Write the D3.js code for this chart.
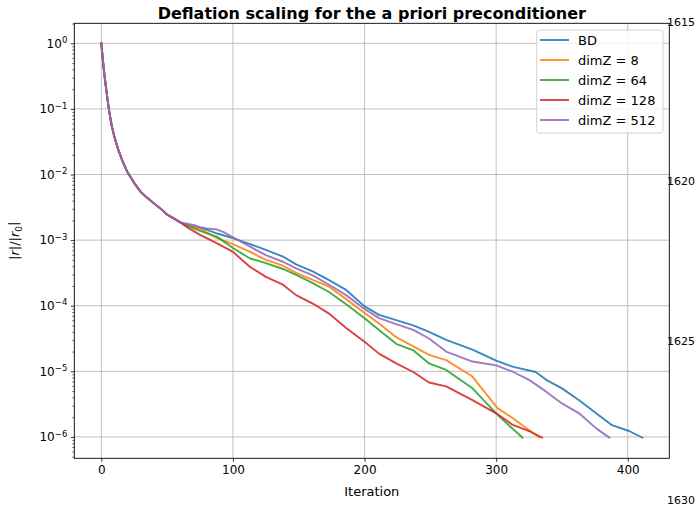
<!DOCTYPE html>
<html>
<head>
<meta charset="utf-8">
<script src="https://cdn.jsdelivr.net/npm/d3@7"></script>
<style>
  html, body { margin: 0; padding: 0; background: #ffffff; }
  svg { display: block; }
  text { font-family: "DejaVu Sans", sans-serif; fill: #000; }
</style>
</head>
<body>
<svg id="chart" width="698" height="508"></svg>
<script>
// ---------------- data ----------------
const title = "Deflation scaling for the a priori preconditioner";
const xLabel = "Iteration";
const seriesNames = ["BD", "dimZ = 8", "dimZ = 64", "dimZ = 128", "dimZ = 512"];
const seriesColors = ["#1f77b4", "#ff7f0e", "#2ca02c", "#d62728", "#9467bd"];
const xTicks = [0, 100, 200, 300, 400];
const yTickExponents = [0, -1, -2, -3, -4, -5, -6];
const lineNumbers = ["1615", "1620", "1625", "1630"];

// common initial decay (all series overlap here)
const commonIter = [0, 1, 2, 3, 4, 5, 6, 8, 10, 13, 16, 20, 25, 30, 35, 40, 45, 50, 55, 60];
const commonVal  = [1.0, 0.60, 0.38, 0.257, 0.178, 0.126, 0.091, 0.054, 0.037, 0.0234, 0.0162,
                    0.0107, 0.0074, 0.0054, 0.00437, 0.00363, 0.00302, 0.00245, 0.00214, 0.00186];

const bdIter = [65, 70, 75, 80, 88, 100, 113, 125, 138, 148, 161, 173, 186, 200, 211, 224, 237, 249, 262, 282, 300, 313, 330, 338, 350, 363, 376, 388, 401, 411];
const bdVal  = [1.70e-3, 1.62e-3, 1.55e-3, 1.45e-3, 1.26e-3, 1.07e-3, 8.71e-4, 7.08e-4, 5.62e-4, 4.27e-4,
                3.31e-4, 2.45e-4, 1.74e-4, 9.77e-5, 7.24e-5, 6.03e-5, 5.01e-5, 3.98e-5, 3.02e-5, 2.14e-5,
                1.45e-5, 1.17e-5, 9.77e-6, 7.41e-6, 5.50e-6, 3.63e-6, 2.29e-6, 1.51e-6, 1.23e-6, 9.77e-7];

const z8Iter = [65, 75, 88, 100, 113, 125, 138, 148, 161, 173, 186, 200, 211, 224, 237, 249, 262, 282, 287, 295, 301, 313, 323, 333];
const z8Val  = [1.70e-3, 1.48e-3, 1.07e-3, 8.71e-4, 6.61e-4, 5.01e-4, 4.07e-4, 3.16e-4, 2.45e-4, 1.95e-4,
                1.26e-4, 7.76e-5, 5.37e-5, 3.31e-5, 2.40e-5, 1.78e-5, 1.48e-5, 8.32e-6, 6.17e-6, 3.89e-6,
                2.75e-6, 1.91e-6, 1.35e-6, 9.77e-7];

const z64Iter = [65, 75, 88, 100, 113, 125, 138, 148, 161, 173, 186, 200, 211, 224, 237, 249, 262, 282, 300, 310, 320];
const z64Val  = [1.66e-3, 1.38e-3, 1.12e-3, 7.59e-4, 5.25e-4, 4.47e-4, 3.63e-4, 2.95e-4, 2.19e-4, 1.62e-4,
                 1.05e-4, 6.46e-5, 4.27e-5, 2.63e-5, 2.09e-5, 1.32e-5, 1.05e-5, 5.50e-6, 2.29e-6, 1.48e-6, 9.77e-7];

const z128Iter = [65, 75, 88, 100, 113, 125, 138, 148, 161, 173, 186, 200, 211, 224, 237, 249, 262, 282, 300, 313, 325, 335];
const z128Val  = [1.58e-3, 1.20e-3, 8.91e-4, 6.61e-4, 3.89e-4, 2.75e-4, 2.09e-4, 1.45e-4, 1.07e-4, 7.59e-5,
                  4.57e-5, 2.82e-5, 1.86e-5, 1.32e-5, 9.77e-6, 6.76e-6, 5.89e-6, 3.63e-6, 2.29e-6, 1.51e-6, 1.23e-6, 9.77e-7];

const z512Iter = [65, 70, 75, 80, 88, 93, 100, 113, 125, 138, 148, 161, 173, 186, 200, 211, 224, 237, 249, 262, 282, 300, 313, 325, 338, 350, 363, 376, 386];
const z512Val  = [1.78e-3, 1.70e-3, 1.58e-3, 1.51e-3, 1.45e-3, 1.32e-3, 1.10e-3, 7.94e-4, 5.89e-4, 4.68e-4,
                  3.72e-4, 2.88e-4, 2.09e-4, 1.45e-4, 8.91e-5, 6.46e-5, 5.25e-5, 4.27e-5, 3.16e-5, 2.00e-5,
                  1.41e-5, 1.23e-5, 9.77e-6, 7.41e-6, 4.90e-6, 3.24e-6, 2.29e-6, 1.35e-6, 9.77e-7];

const seriesIters = [bdIter, z8Iter, z64Iter, z128Iter, z512Iter];
const seriesVals  = [bdVal, z8Val, z64Val, z128Val, z512Val];

// ---------------- layout ----------------
const svg = d3.select("#chart");
const L = 74.3, R = 669.3, T = 23.3, B = 458.3;

const x = d3.scaleLinear().domain([-20.55, 431.55]).range([L, R]);
const y = d3.scaleLog().domain([Math.pow(10, -6.326), Math.pow(10, 0.305)]).range([B, T]);

// grid
const grid = svg.append("g");
grid.selectAll("line.gx").data(xTicks).enter().append("line")
  .attr("x1", d => x(d)).attr("x2", d => x(d)).attr("y1", T).attr("y2", B)
  .attr("stroke", "#b0b0b0").attr("stroke-width", 0.8);
grid.selectAll("line.gy").data(yTickExponents).enter().append("line")
  .attr("x1", L).attr("x2", R).attr("y1", d => y(Math.pow(10, d))).attr("y2", d => y(Math.pow(10, d)))
  .attr("stroke", "#b0b0b0").attr("stroke-width", 0.8);

// lines
const plot = svg.append("g");
const lineGen = d3.line().x(d => x(d[0])).y(d => y(d[1]));
seriesNames.forEach((name, k) => {
  const pts = commonIter.map((it, j) => [it, commonVal[j]])
    .concat(seriesIters[k].map((it, j) => [it, seriesVals[k][j]]));
  plot.append("path").datum(pts)
    .attr("d", lineGen)
    .attr("fill", "none")
    .attr("stroke", seriesColors[k])
    .attr("stroke-width", 1.9)
    .attr("stroke-opacity", 0.88)
    .attr("stroke-linejoin", "round")
    .attr("stroke-linecap", "square");
});

// axes
const xAxis = d3.axisBottom(x).tickValues(xTicks).tickSize(3.5).tickPadding(3.5).tickFormat(d3.format("d"));
const gx = svg.append("g").attr("transform", `translate(0,${B})`).call(xAxis);
gx.select(".domain").remove();
gx.selectAll("text").attr("font-size", 12).attr("font-family", "DejaVu Sans").attr("fill", "#000");
gx.selectAll("line").attr("stroke", "#000").attr("stroke-width", 0.8);

// minor y ticks
const minorTicks = [];
for (let e = -7; e <= 0; e++) for (let m = 2; m <= 9; m++) {
  const v = m * Math.pow(10, e);
  if (v >= y.domain()[0] && v <= y.domain()[1]) minorTicks.push(v);
}
const yMinor = d3.axisLeft(y).tickValues(minorTicks).tickSize(2).tickFormat("");
const gyMinor = svg.append("g").attr("transform", `translate(${L},0)`).call(yMinor);
gyMinor.select(".domain").remove();
gyMinor.selectAll("line").attr("stroke", "#000").attr("stroke-width", 0.6);

const yAxis = d3.axisLeft(y).tickValues(yTickExponents.map(e => Math.pow(10, e))).tickSize(3.5).tickPadding(3.5).tickFormat("");
const gy = svg.append("g").attr("transform", `translate(${L},0)`).call(yAxis);
gy.select(".domain").remove();
gy.selectAll("line").attr("stroke", "#000").attr("stroke-width", 0.8);
gy.selectAll(".tick").each(function (d) {
  const e = Math.round(Math.log10(d));
  const t = d3.select(this).append("text")
    .attr("x", -7).attr("dy", "0.32em").attr("text-anchor", "end")
    .attr("font-size", 12).attr("font-family", "DejaVu Sans").attr("fill", "#000");
  t.append("tspan").text("10");
  t.append("tspan").attr("font-size", 8.5).attr("dy", "-0.55em")
    .text(e < 0 ? "\u2212" + Math.abs(e) : String(e));
});

// frame
svg.append("rect").attr("x", L).attr("y", T).attr("width", R - L).attr("height", B - T)
  .attr("fill", "none").attr("stroke", "#000").attr("stroke-width", 0.9);

// title & labels
svg.append("text").attr("x", (L + R) / 2).attr("y", 19).attr("text-anchor", "middle")
  .attr("font-size", 16).attr("font-weight", "bold").text(title);
svg.append("text").attr("x", (L + R) / 2).attr("y", 496).attr("text-anchor", "middle")
  .attr("font-size", 13).text(xLabel);
const yl = svg.append("text").attr("transform", `translate(19,${(T + B) / 2}) rotate(-90)`)
  .attr("text-anchor", "middle").attr("font-size", 13);
yl.append("tspan").text("|");
yl.append("tspan").attr("font-style", "italic").text("r");
yl.append("tspan").text("|/|");
yl.append("tspan").attr("font-style", "italic").text("r");
yl.append("tspan").attr("font-size", 9).attr("dy", "0.3em").text("0");
yl.append("tspan").attr("dy", "-0.3em").text("|");

// legend
const leg = svg.append("g");
leg.append("rect").attr("x", 536.7).attr("y", 30).attr("width", 126.3).attr("height", 103)
  .attr("rx", 2.5).attr("fill", "#fff").attr("fill-opacity", 0.8)
  .attr("stroke", "#cccccc").attr("stroke-width", 0.9);
const rowY = d3.scalePoint().domain(seriesNames).range([40, 120]);
seriesNames.forEach((name, k) => {
  leg.append("line").attr("x1", 540).attr("x2", 569).attr("y1", rowY(name)).attr("y2", rowY(name))
    .attr("stroke", seriesColors[k]).attr("stroke-width", 1.9).attr("stroke-opacity", 0.88);
  leg.append("text").attr("x", 578).attr("y", rowY(name)).attr("dy", "0.36em")
    .attr("font-size", 13).text(name);
});

// page line numbers at the right edge
const ln = d3.scalePoint().domain(lineNumbers).range([22, 500]);
svg.selectAll("text.ln").data(lineNumbers).enter().append("text")
  .attr("class", "ln").attr("x", 667).attr("y", d => ln(d)).attr("dy", "0.35em")
  .attr("font-family", "Liberation Sans, Arial, sans-serif").attr("font-size", 11)
  .text(d => d);
</script>
</body>
</html>
